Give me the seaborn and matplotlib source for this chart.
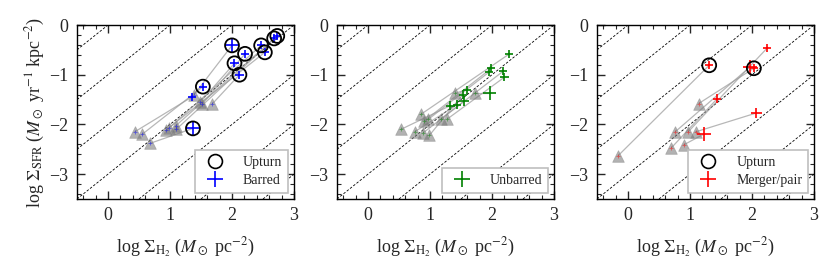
import numpy as np
import pandas as pd
import matplotlib
matplotlib.use("Agg")
import matplotlib.pyplot as plt
from matplotlib.lines import Line2D
from matplotlib.ticker import MultipleLocator
import seaborn as sns

sns.set_theme(style="ticks")
plt.rcParams['font.family'] = ['Liberation Serif', 'DejaVu Serif']
plt.rcParams['mathtext.fontset'] = 'stix'
plt.rcParams['axes.unicode_minus'] = True

# ---- Panel 1: barred ----
p1_tri_x = [0.43, 0.55, 0.68, 0.94, 0.98, 1.09, 1.10, 1.39, 1.49, 1.52, 1.68]
p1_tri_y = [-2.15, -2.20, -2.38, -2.12, -2.07, -2.03, -2.10, -1.40, -1.55, -1.59, -1.59]
p1_pl_x = [1.35, 1.53, 1.37, 2.47, 2.53, 2.68, 2.73, 2.00, 2.04, 2.21, 2.12]
p1_pl_y = [-1.45, -1.24, -2.08, -0.41, -0.55, -0.27, -0.22, -0.41, -0.77, -0.58, -1.00]
p1_pl_size = [1, 1, 3, 1, 1, 1, 1, 3, 1, 1, 1]
p1_upturn = [0, 1, 1, 1, 1, 1, 1, 1, 1, 1, 1]

# ---- Panel 2: unbarred ----
p2_tri_x = [0.53, 0.75, 0.85, 0.91, 0.97, 0.89, 0.99, 1.18, 1.28, 1.41, 1.72]
p2_tri_y = [-2.10, -2.15, -1.80, -1.93, -1.90, -2.17, -2.22, -1.89, -1.89, -1.37, -1.37]
p2_pl_x = [1.33, 1.44, 2.27, 1.99, 1.95, 1.55, 1.53, 2.18, 2.20, 1.60, 1.96]
p2_pl_y = [-1.62, -1.60, -0.59, -0.87, -0.95, -1.53, -1.40, -0.93, -1.05, -1.30, -1.37]
p2_pl_size = [1, 1, 1, 1, 1, 2, 1, 1, 1, 1, 3]
p2_upturn = [0, 0, 0, 0, 0, 0, 0, 0, 0, 0, 0]

# ---- Panel 3: merger/pair ----
p3_tri_x = [-0.16, 1.14, 0.76, 0.97, 1.09, 0.70, 0.90]
p3_tri_y = [-2.63, -1.58, -2.15, -2.15, -2.15, -2.47, -2.41]
p3_pl_x = [1.31, 2.03, 1.97, 2.24, 2.07, 1.44, 1.23]
p3_pl_y = [-0.81, -0.87, -0.84, -0.47, -1.77, -1.48, -2.19]
p3_pl_size = [1, 1, 3, 1, 2, 1, 3]
p3_upturn = [1, 1, 0, 0, 0, 0, 0]

panels = [
    (p1_tri_x, p1_tri_y, p1_pl_x, p1_pl_y, p1_pl_size, p1_upturn, 'blue', 'Barred', True),
    (p2_tri_x, p2_tri_y, p2_pl_x, p2_pl_y, p2_pl_size, p2_upturn, 'green', 'Unbarred', False),
    (p3_tri_x, p3_tri_y, p3_pl_x, p3_pl_y, p3_pl_size, p3_upturn, 'red', 'Merger/pair', True),
]

depletion_offsets = [0, -1, -2, -3, -4, -5, -6]
size_map = {1: 35, 2: 60, 3: 95}

fig = plt.figure(figsize=(8.3, 2.77), dpi=100)
lefts = [77 / 830, 337 / 830, 597 / 830]
w = 217 / 830
b = 1 - 199 / 277
h = 174 / 277

for i, (tx, ty, px, py, ps, up, col, lab, show_up) in enumerate(panels):
    ax = fig.add_axes([lefts[i], b, w, h])
    for c in depletion_offsets:
        ax.axline((0, c), slope=1, color='black', lw=0.6, ls=(0, (3, 2)), zorder=1)
    for x0, y0, x1, y1 in zip(tx, ty, px, py):
        ax.plot([x0, x1], [y0, y1], color='0.6', lw=0.9, alpha=0.7, zorder=2)
    dtri = pd.DataFrame({'x': tx, 'y': ty})
    sns.scatterplot(data=dtri, x='x', y='y', marker='^', s=70, color='0.45',
                    alpha=0.55, edgecolor='0.55', linewidth=0.6, ax=ax, zorder=3, legend=False)
    sns.scatterplot(data=dtri, x='x', y='y', marker='+', s=10, color=col,
                    alpha=0.5, linewidth=0.6, ax=ax, zorder=4, legend=False)
    dpl = pd.DataFrame({'x': px, 'y': py, 'sz': ps, 'up': up})
    sns.scatterplot(data=dpl, x='x', y='y', size='sz', sizes=size_map, marker='+',
                    color=col, linewidth=1.2, ax=ax, zorder=5, legend=False)
    dup = dpl[dpl['up'] == 1]
    if len(dup):
        sns.scatterplot(data=dup, x='x', y='y', marker='o', s=100, facecolor='none',
                        edgecolor='black', linewidth=1.3, ax=ax, zorder=6, legend=False)
    ax.set_xlim(-0.5, 3)
    ax.set_ylim(-3.5, 0)
    ax.xaxis.set_major_locator(MultipleLocator(1))
    ax.xaxis.set_minor_locator(MultipleLocator(0.2))
    ax.yaxis.set_major_locator(MultipleLocator(1))
    ax.yaxis.set_minor_locator(MultipleLocator(0.2))
    ax.tick_params(which='both', direction='in', top=True, right=True, labelsize=13, pad=6)
    ax.tick_params(which='major', length=6, width=1)
    ax.tick_params(which='minor', length=3, width=0.8)
    for s in ax.spines.values():
        s.set_linewidth(1.0)
        s.set_color('black')
    ax.set_xlabel(r'log $\Sigma_{\rm H_2}$ ($M_\odot$ pc$^{-2}$)', fontsize=13, labelpad=8)
    if i == 0:
        ax.set_ylabel(r'log $\Sigma_{\rm SFR}$ ($M_\odot$ yr$^{-1}$ kpc$^{-2}$)', fontsize=13, labelpad=2)
    else:
        ax.set_ylabel('')
    handles = []
    if show_up:
        handles.append(Line2D([], [], marker='o', ls='none', mfc='none', mec='black',
                              ms=10, mew=1.2, label='Upturn'))
    handles.append(Line2D([], [], marker='+', ls='none', color=col, ms=12, mew=1.2, label=lab))
    leg = ax.legend(handles=handles, loc='lower right', fontsize=10, frameon=True,
                    fancybox=False, edgecolor='0.75', framealpha=1, handletextpad=1.0,
                    borderpad=0.45, labelspacing=0.35, borderaxespad=0.4)
    leg.get_frame().set_linewidth(1.2)

fig.savefig('out.png', dpi=100)
